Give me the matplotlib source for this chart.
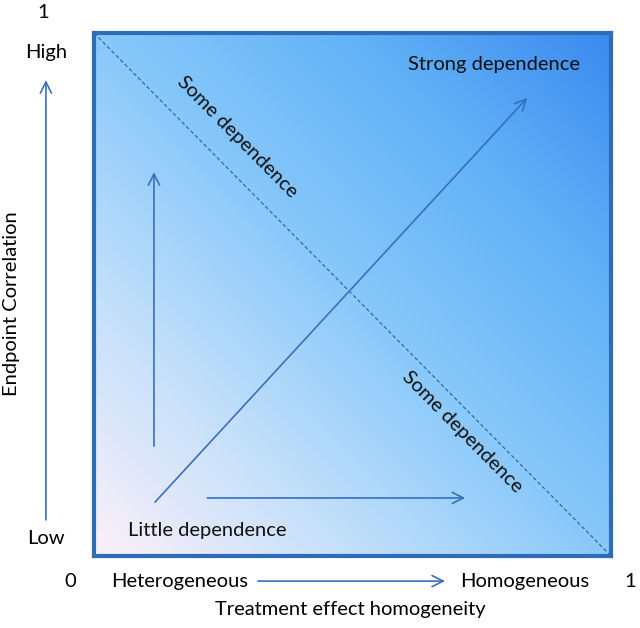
import numpy as np
import matplotlib.pyplot as plt
from matplotlib.colors import LinearSegmentedColormap

# Text labels
x_label = "Treatment effect homogeneity"
y_label = "Endpoint Correlation"
x_ends = ["Heterogeneous", "Homogeneous"]
y_ends = ["Low", "High"]
region_labels = ["Little dependence", "Some dependence", "Some dependence", "Strong dependence"]
region_x = [0.219, 0.277, 0.712, 0.774]
region_y = [0.048, 0.801, 0.237, 0.939]
region_rot = [0, -45.3, -45.3, 0]

# Arrows inside the square (start, end) in axis units
arrow_start = [(0.116, 0.210), (0.118, 0.103), (0.219, 0.111)]
arrow_end = [(0.116, 0.734), (0.838, 0.876), (0.718, 0.111)]

# Gradient colour stops along the diagonal
grad_pos = [0.0, 0.25, 0.5, 0.75, 1.0]
grad_col = ["#fcf0f8", "#c4e0fb", "#88c8fa", "#62b2f7", "#3b8af0"]

blue = "#3a6fbf"
border = "#2f6cb8"
fs = 14.5

plt.rcParams['font.family'] = ['Lato', 'DejaVu Sans']

fig = plt.figure(figsize=(6.4, 6.28), dpi=100)
ax = fig.add_axes([94 / 640, 72 / 628, 517 / 640, 523 / 628])
ax.set_xlim(0, 1)
ax.set_ylim(0, 1)

# Background gradient
cmap = LinearSegmentedColormap.from_list("bg", list(zip(grad_pos, grad_col)))
xx, yy = np.meshgrid(np.linspace(0, 1, 300), np.linspace(0, 1, 300))
ax.imshow((xx + yy) / 2, cmap=cmap, origin="lower", extent=[0, 1, 0, 1],
          aspect="auto", vmin=0, vmax=1, zorder=0)

for s in ax.spines.values():
    s.set_color(border)
    s.set_linewidth(3)
ax.set_xticks([])
ax.set_yticks([])

# Dashed anti-diagonal
ax.plot([0, 1], [1, 0], color="#3a64a8", lw=0.9, ls=(0, (3, 2)), zorder=2)

arrow_props = dict(arrowstyle="->,head_length=0.8,head_width=0.4",
                   color=blue, lw=1.2, shrinkA=0, shrinkB=0)

# Arrows in the square
for (x0, y0), (x1, y1) in zip(arrow_start, arrow_end):
    ax.annotate("", xy=(x1, y1), xytext=(x0, y0), arrowprops=arrow_props)

# Region labels
for lab, x, y, r in zip(region_labels, region_x, region_y, region_rot):
    ax.text(x, y, lab, rotation=r, ha="center", va="center", fontsize=fs,
            color="#111111")

# Outside axis annotations
ax.annotate("", xy=(-0.093, 0.910), xytext=(-0.093, 0.069), annotation_clip=False,
            arrowprops=arrow_props)
ax.annotate("", xy=(0.679, -0.048), xytext=(0.317, -0.048), annotation_clip=False,
            arrowprops=arrow_props)

ax.text(-0.093, 0.962, y_ends[1], ha="center", va="center", fontsize=fs, clip_on=False)
ax.text(-0.093, 0.034, y_ends[0], ha="center", va="center", fontsize=fs, clip_on=False)
ax.text(0.166, -0.048, x_ends[0], ha="center", va="center", fontsize=fs, clip_on=False)
ax.text(0.834, -0.048, x_ends[1], ha="center", va="center", fontsize=fs, clip_on=False)
ax.text(-0.099, 1.040, "1", ha="center", va="center", fontsize=fs, clip_on=False)
ax.text(-0.046, -0.048, "0", ha="center", va="center", fontsize=fs, clip_on=False)
ax.text(1.037, -0.048, "1", ha="center", va="center", fontsize=fs, clip_on=False)
ax.text(0.495, -0.103, x_label, ha="center", va="center", fontsize=fs, clip_on=False)
ax.text(-0.159, 0.482, y_label, ha="center", va="center", rotation=90, fontsize=fs,
        clip_on=False)

fig.savefig("out.png", dpi=100)
